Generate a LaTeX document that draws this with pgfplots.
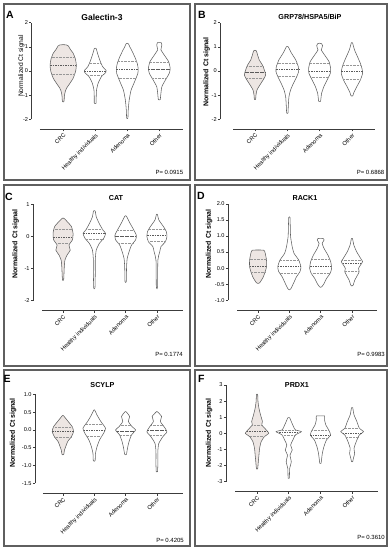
\documentclass[border=0pt]{standalone}
\usepackage{pgfplots}
\pgfplotsset{compat=1.18}
\usepackage{pgfplotstable}
\usepackage{fontspec}
\setmainfont{Liberation Sans}

\definecolor{vout}{RGB}{95,95,95}
\definecolor{crc}{RGB}{237,230,227}
\definecolor{frame}{RGB}{95,95,95}
\definecolor{axc}{RGB}{60,60,60}
\definecolor{medc}{RGB}{90,90,90}
\definecolor{qc}{RGB}{150,150,150}

% ---- violin outlines: y, half-width (category units) ----
\pgfplotstableread[row sep=\\]{y w\\ 1.09 0\\ 1.08 0.10\\ 1.04 0.16\\ 0.90 0.22\\ 0.74 0.31\\ 0.50 0.38\\ 0.25 0.41\\ 0.00 0.39\\ -0.30 0.31\\ -0.55 0.19\\ -0.70 0.11\\ -0.82 0.07\\ -1.00 0.04\\ -1.20 0.03\\ -1.27 0.02\\ -1.28 0\\}\tAa
\pgfplotstableread[row sep=\\]{y w\\ 0.95 0\\ 0.93 0.03\\ 0.74 0.07\\ 0.50 0.13\\ 0.39 0.16\\ 0.18 0.23\\ 0.02 0.34\\ -0.06 0.33\\ -0.24 0.19\\ -0.51 0.09\\ -0.79 0.04\\ -1.10 0.03\\ -1.33 0.03\\ -1.35 0\\}\tAb
\pgfplotstableread[row sep=\\]{y w\\ 1.15 0\\ 1.12 0.04\\ 1.00 0.08\\ 0.875 0.13\\ 0.60 0.23\\ 0.32 0.31\\ 0.11 0.34\\ -0.10 0.33\\ -0.44 0.23\\ -0.79 0.12\\ -1.20 0.06\\ -1.62 0.03\\ -1.95 0.02\\ -1.97 0\\}\tAc
\pgfplotstableread[row sep=\\]{y w\\ 1.18 0\\ 1.17 0.06\\ 1.08 0.08\\ 0.95 0.06\\ 0.875 0.05\\ 0.67 0.15\\ 0.39 0.29\\ 0.11 0.34\\ -0.10 0.31\\ -0.375 0.19\\ -0.65 0.08\\ -0.93 0.05\\ -1.18 0.03\\ -1.20 0\\}\tAd

\pgfplotstableread[row sep=\\]{y w\\ 0.86 0\\ 0.84 0.04\\ 0.67 0.08\\ 0.46 0.13\\ 0.25 0.23\\ 0.04 0.29\\ -0.17 0.33\\ -0.375 0.25\\ -0.58 0.15\\ -0.79 0.06\\ -1.0 0.03\\ -1.17 0.02\\ -1.18 0\\}\tBa
\pgfplotstableread[row sep=\\]{y w\\ 1.02 0\\ 1.00 0.03\\ 0.74 0.13\\ 0.46 0.26\\ 0.18 0.34\\ -0.03 0.35\\ -0.24 0.29\\ -0.51 0.19\\ -0.79 0.10\\ -1.07 0.05\\ -1.49 0.03\\ -1.74 0.02\\ -1.76 0\\}\tBb
\pgfplotstableread[row sep=\\]{y w\\ 1.15 0\\ 1.13 0.06\\ 1.05 0.09\\ 0.95 0.07\\ 0.875 0.05\\ 0.67 0.15\\ 0.39 0.29\\ 0.11 0.34\\ -0.10 0.33\\ -0.375 0.23\\ -0.65 0.13\\ -0.93 0.06\\ -1.25 0.03\\ -1.27 0\\}\tBc
\pgfplotstableread[row sep=\\]{y w\\ 1.18 0\\ 1.16 0.02\\ 0.875 0.08\\ 0.60 0.17\\ 0.32 0.26\\ 0.11 0.31\\ -0.10 0.33\\ -0.375 0.26\\ -0.65 0.15\\ -0.86 0.07\\ -1.02 0.03\\ -1.04 0\\}\tBd

\pgfplotstableread[row sep=\\]{y w\\ 0.57 0\\ 0.55 0.04\\ 0.46 0.13\\ 0.30 0.27\\ 0.09 0.32\\ -0.11 0.30\\ -0.27 0.19\\ -0.43 0.23\\ -0.58 0.13\\ -0.74 0.06\\ -0.95 0.04\\ -1.16 0.03\\ -1.35 0.02\\ -1.37 0\\}\tCa
\pgfplotstableread[row sep=\\]{y w\\ 0.80 0\\ 0.78 0.03\\ 0.61 0.06\\ 0.41 0.15\\ 0.20 0.27\\ 0.09 0.36\\ -0.06 0.30\\ -0.22 0.16\\ -0.43 0.06\\ -0.74 0.03\\ -1.16 0.03\\ -1.60 0.02\\ -1.62 0\\}\tCb
\pgfplotstableread[row sep=\\]{y w\\ 0.64 0\\ 0.62 0.03\\ 0.46 0.11\\ 0.25 0.23\\ 0.04 0.34\\ -0.11 0.32\\ -0.27 0.19\\ -0.48 0.11\\ -0.69 0.05\\ -0.95 0.03\\ -1.40 0.02\\ -1.42 0\\}\tCc
\pgfplotstableread[row sep=\\]{y w\\ 0.69 0\\ 0.67 0.02\\ 0.51 0.06\\ 0.30 0.21\\ 0.15 0.30\\ -0.01 0.32\\ -0.17 0.27\\ -0.32 0.13\\ -0.48 0.09\\ -0.74 0.03\\ -1.57 0.02\\ -1.59 0\\}\tCd

\pgfplotstableread[row sep=\\]{y w\\ 0.565 0\\ 0.555 0.19\\ 0.46 0.23\\ 0.25 0.27\\ 0.04 0.27\\ -0.11 0.23\\ -0.27 0.17\\ -0.375 0.11\\ -0.46 0.05\\ -0.48 0\\}\tDa
\pgfplotstableread[row sep=\\]{y w\\ 1.60 0\\ 1.58 0.02\\ 1.29 0.03\\ 0.98 0.04\\ 0.67 0.09\\ 0.46 0.15\\ 0.25 0.30\\ 0.04 0.37\\ -0.11 0.34\\ -0.27 0.23\\ -0.48 0.13\\ -0.64 0.05\\ -0.68 0\\}\tDb
\pgfplotstableread[row sep=\\]{y w\\ 0.93 0\\ 0.92 0.09\\ 0.875 0.11\\ 0.77 0.05\\ 0.61 0.11\\ 0.41 0.23\\ 0.20 0.32\\ -0.01 0.35\\ -0.17 0.30\\ -0.32 0.19\\ -0.48 0.11\\ -0.58 0.04\\ -0.60 0\\}\tDc
\pgfplotstableread[row sep=\\]{y w\\ 0.93 0\\ 0.91 0.02\\ 0.72 0.06\\ 0.51 0.15\\ 0.30 0.28\\ 0.20 0.34\\ 0.09 0.27\\ -0.01 0.21\\ -0.11 0.23\\ -0.27 0.15\\ -0.375 0.09\\ -0.53 0.04\\ -0.56 0\\}\tDd

\pgfplotstableread[row sep=\\]{y w\\ 0.41 0\\ 0.39 0.03\\ 0.28 0.13\\ 0.09 0.30\\ -0.05 0.34\\ -0.19 0.27\\ -0.33 0.15\\ -0.47 0.09\\ -0.57 0.05\\ -0.68 0.03\\ -0.70 0\\}\tEa
\pgfplotstableread[row sep=\\]{y w\\ 0.57 0\\ 0.55 0.02\\ 0.42 0.09\\ 0.24 0.21\\ 0.05 0.36\\ -0.09 0.30\\ -0.28 0.17\\ -0.47 0.09\\ -0.66 0.04\\ -0.86 0.03\\ -0.88 0\\}\tEb
\pgfplotstableread[row sep=\\]{y w\\ 0.52 0\\ 0.50 0.03\\ 0.38 0.13\\ 0.24 0.09\\ 0.09 0.21\\ 0.00 0.32\\ -0.14 0.19\\ -0.33 0.11\\ -0.52 0.06\\ -0.68 0.03\\ -0.70 0\\}\tEc
\pgfplotstableread[row sep=\\]{y w\\ 0.52 0\\ 0.50 0.03\\ 0.38 0.15\\ 0.24 0.11\\ 0.09 0.23\\ -0.05 0.32\\ -0.19 0.19\\ -0.38 0.06\\ -0.61 0.03\\ -0.99 0.03\\ -1.17 0.02\\ -1.18 0\\}\tEd

\pgfplotstableread[row sep=\\]{y w\\ 2.44 0\\ 2.40 0.02\\ 1.98 0.03\\ 1.56 0.06\\ 1.15 0.11\\ 0.73 0.17\\ 0.52 0.15\\ 0.21 0.29\\ 0.00 0.37\\ -0.21 0.23\\ -0.52 0.13\\ -0.94 0.08\\ -1.35 0.06\\ -1.77 0.04\\ -2.20 0.02\\ -2.23 0\\}\tFa
\pgfplotstableread[row sep=\\]{y w\\ 0.98 0\\ 0.96 0.03\\ 0.73 0.08\\ 0.42 0.15\\ 0.21 0.21\\ 0.10 0.40\\ -0.10 0.21\\ -0.42 0.13\\ -0.73 0.06\\ -1.04 0.11\\ -1.35 0.04\\ -1.77 0.08\\ -2.19 0.03\\ -2.78 0.02\\ -2.80 0\\}\tFb
\pgfplotstableread[row sep=\\]{y w\\ 1.08 0\\ 1.075 0.13\\ 0.83 0.13\\ 0.52 0.17\\ 0.21 0.26\\ -0.10 0.32\\ -0.42 0.19\\ -0.83 0.11\\ -1.25 0.06\\ -1.56 0.04\\ -1.86 0.02\\ -1.88 0\\}\tFc
\pgfplotstableread[row sep=\\]{y w\\ 1.60 0\\ 1.58 0.02\\ 1.15 0.06\\ 0.73 0.15\\ 0.31 0.23\\ 0.10 0.36\\ -0.10 0.23\\ -0.52 0.13\\ -0.94 0.06\\ -1.25 0.08\\ -1.56 0.04\\ -1.75 0.02\\ -1.77 0\\}\tFd

% outline of a violin: centre, table
\newcommand{\violin}[2]{%
  \addplot[vo] table[x expr={#1+\thisrow{w}}, y=y] {#2};
  \addplot[vo] table[x expr={#1-\thisrow{w}}, y=y] {#2};
}
% filled halves (ends have zero width, so closing gives each half)
\newcommand{\crcfill}[2]{%
  \addplot[vf] table[x expr={#1+\thisrow{w}}, y=y] {#2} -- cycle;
  \addplot[vf] table[x expr={#1-\thisrow{w}}, y=y] {#2} -- cycle;
}
% horizontal line: centre, y, half-width, style
\newcommand{\qline}[4]{\addplot[#4] table[row sep=\\, x expr={#1+\thisrow{d}}, y=y] {d y\\ -#3 #2\\ #3 #2\\};}

\pgfplotsset{
  vo/.style={draw=vout, line width=0.55pt, smooth, tension=0.35},
  vf/.style={fill=crc, draw=none, smooth, tension=0.35},
  med/.style={draw=medc, dash pattern=on 1.6pt off 0.9pt, line width=0.5pt},
  qrt/.style={draw=qc, dash pattern=on 0.6pt off 0.8pt, line width=0.45pt},
  vp/.style={scale only axis, clip=false, anchor=south west,
    axis x line*=bottom, axis y line*=left,
    axis line style={draw=none},
    xtick={0,1,2,3}, xticklabels={CRC,Healthy individuals,Adenoma,Other},
    tick align=outside, major tick length=2.2pt,
    tick style={axc, line width=0.7pt},
    xticklabel style={rotate=45, anchor=north east, font=\fontsize{5.8}{5.8}\selectfont, inner sep=1pt},
    yticklabel style={font=\fontsize{5.6}{5.6}\selectfont, inner sep=1pt},
  },
}
\newcommand{\titlefont}{\bfseries\fontsize{7.2}{7.2}\selectfont}
\newcommand{\labfont}{\bfseries\fontsize{7}{7}\selectfont}
\newcommand{\letfont}{\bfseries\fontsize{10.5}{10.5}\selectfont}
\newcommand{\pfont}{\fontsize{6}{6}\selectfont}

\begin{document}
\begin{tikzpicture}
\useasboundingbox (0,0) rectangle (391pt,-550pt);
% panel frames
\begin{scope}[frame, line width=1.3pt]
\draw (4pt,-4pt) rectangle (190pt,-180pt);
\draw (195pt,-4pt) rectangle (387pt,-180pt);
\draw (4pt,-185pt) rectangle (190pt,-366pt);
\draw (195pt,-185pt) rectangle (387pt,-366pt);
\draw (4pt,-370pt) rectangle (190pt,-546pt);
\draw (195pt,-370pt) rectangle (387pt,-546pt);
\end{scope}

% ===== A =====
\begin{axis}[vp, at={(31.5pt,-129.2pt)}, width=151.5pt, height=107.7pt,
  xmin=-0.99, xmax=3.74, ymin=-2.41, ymax=2.05,
  ytick={-2,-1,0,1,2}, yticklabels={-2,-1,0,1,2}]
\crcfill{0}{\tAa}
\violin{0}{\tAa}\violin{1}{\tAb}\violin{2}{\tAc}\violin{3}{\tAd}
\qline{0}{0.22}{0.41}{med}\qline{0}{0.57}{0.36}{qrt}\qline{0}{-0.12}{0.36}{qrt}
\qline{1}{-0.03}{0.34}{med}\qline{1}{0.32}{0.17}{qrt}\qline{1}{-0.19}{0.22}{qrt}
\qline{2}{0.08}{0.34}{med}\qline{2}{0.40}{0.29}{qrt}\qline{2}{-0.30}{0.27}{qrt}
\qline{3}{0.08}{0.34}{med}\qline{3}{0.36}{0.29}{qrt}\qline{3}{-0.30}{0.23}{qrt}
\draw[axc, line width=0.8pt] (axis cs:-0.99,-2) -- (axis cs:-0.99,2);
\draw[axc, line width=0.8pt] (axis cs:-0.73,-2.41) -- (axis cs:3.74,-2.41);
\end{axis}
\node[anchor=base west, font=\letfont, inner sep=0] at (6pt,-18.3pt) {A};
\node[anchor=base, font=\bfseries\fontsize{8.5}{8.5}\selectfont, inner sep=0] at (102pt,-20.7pt) {Galectin-3};
\node[rotate=90, font=\fontsize{6.7}{6.7}\selectfont, inner sep=0] at (21.5pt,-66pt) {Normalized Ct signal};
\node[anchor=base east, font=\pfont, inner sep=0] at (183.3pt,-174.5pt) {P= 0.0915};

% ===== B =====
\begin{axis}[vp, at={(220.1pt,-129.2pt)}, width=155.1pt, height=107.7pt,
  xmin=-1.08, xmax=3.72, ymin=-2.41, ymax=2.05,
  ytick={-2,-1,0,1,2}, yticklabels={-2,-1,0,1,2}]
\crcfill{0}{\tBa}
\violin{0}{\tBa}\violin{1}{\tBb}\violin{2}{\tBc}\violin{3}{\tBd}
\qline{0}{-0.07}{0.31}{med}\qline{0}{0.21}{0.24}{qrt}\qline{0}{-0.30}{0.28}{qrt}
\qline{1}{0.06}{0.35}{med}\qline{1}{0.32}{0.30}{qrt}\qline{1}{-0.21}{0.30}{qrt}
\qline{2}{0.00}{0.34}{med}\qline{2}{0.32}{0.30}{qrt}\qline{2}{-0.26}{0.29}{qrt}
\qline{3}{-0.03}{0.33}{med}\qline{3}{0.25}{0.28}{qrt}\qline{3}{-0.33}{0.28}{qrt}
\draw[axc, line width=0.8pt] (axis cs:-1.08,-2) -- (axis cs:-1.08,2);
\draw[axc, line width=0.8pt] (axis cs:-0.68,-2.41) -- (axis cs:3.72,-2.41);
\end{axis}
\node[anchor=base west, font=\letfont, inner sep=0] at (198pt,-18.3pt) {B};
\node[anchor=base, font=\titlefont, inner sep=0] at (310pt,-19.3pt) {GRP78/HSPA5/BiP};
\node[rotate=90, font=\labfont, inner sep=0] at (206.5pt,-72pt) {Normalized Ct signal};
\node[anchor=base east, font=\pfont, inner sep=0] at (384.5pt,-174.5pt) {P= 0.6868};

% ===== C =====
\begin{axis}[vp, at={(33pt,-310.7pt)}, width=149.9pt, height=108.2pt,
  xmin=-0.96, xmax=3.83, ymin=-2.31, ymax=1.05,
  ytick={-2,-1,0,1}, yticklabels={-2,-1,0,1}]
\crcfill{0}{\tCa}
\violin{0}{\tCa}\violin{1}{\tCb}\violin{2}{\tCc}\violin{3}{\tCd}
\qline{0}{-0.03}{0.31}{med}\qline{0}{0.22}{0.27}{qrt}\qline{0}{-0.22}{0.22}{qrt}
\qline{1}{0.11}{0.35}{med}\qline{1}{0.22}{0.26}{qrt}\qline{1}{-0.09}{0.27}{qrt}
\qline{2}{-0.01}{0.34}{med}\qline{2}{0.20}{0.23}{qrt}\qline{2}{-0.20}{0.25}{qrt}
\qline{3}{0.04}{0.31}{med}\qline{3}{0.22}{0.26}{qrt}\qline{3}{-0.14}{0.28}{qrt}
\draw[axc, line width=0.8pt] (axis cs:-0.96,-2) -- (axis cs:-0.96,1);
\draw[axc, line width=0.8pt] (axis cs:-0.67,-2.31) -- (axis cs:3.83,-2.31);
\end{axis}
\node[anchor=base west, font=\letfont, inner sep=0] at (5pt,-200pt) {C};
\node[anchor=base, font=\titlefont, inner sep=0] at (116pt,-200.7pt) {CAT};
\node[rotate=90, font=\labfont, inner sep=0] at (15.5pt,-244pt) {Normalized Ct signal};
\node[anchor=base east, font=\pfont, inner sep=0] at (183pt,-356pt) {P= 0.1774};

% ===== D =====
\begin{axis}[vp, at={(228pt,-310.7pt)}, width=149pt, height=108.3pt,
  xmin=-0.96, xmax=3.8, ymin=-1.33, ymax=2.05,
  ytick={-1,-0.5,0,0.5,1,1.5,2}, yticklabels={-1.0,-0.5,0.0,0.5,1.0,1.5,2.0}]
\crcfill{0}{\tDa}
\violin{0}{\tDa}\violin{1}{\tDb}\violin{2}{\tDc}\violin{3}{\tDd}
\qline{0}{0.07}{0.27}{med}\qline{0}{0.27}{0.27}{qrt}\qline{0}{-0.13}{0.23}{qrt}
\qline{1}{0.05}{0.37}{med}\qline{1}{0.26}{0.30}{qrt}\qline{1}{-0.15}{0.31}{qrt}
\qline{2}{0.06}{0.34}{med}\qline{2}{0.29}{0.27}{qrt}\qline{2}{-0.17}{0.30}{qrt}
\qline{3}{0.14}{0.30}{med}\qline{3}{0.25}{0.31}{qrt}\qline{3}{-0.09}{0.22}{qrt}
\draw[axc, line width=0.8pt] (axis cs:-0.96,-1) -- (axis cs:-0.96,2);
\draw[axc, line width=0.8pt] (axis cs:-0.67,-1.33) -- (axis cs:3.8,-1.33);
\end{axis}
\node[anchor=base west, font=\letfont, inner sep=0] at (197pt,-199pt) {D};
\node[anchor=base, font=\titlefont, inner sep=0] at (305pt,-200.7pt) {RACK1};
\node[rotate=90, font=\labfont, inner sep=0] at (209pt,-244pt) {Normalized Ct signal};
\node[anchor=base east, font=\pfont, inner sep=0] at (385pt,-356pt) {P= 0.9983};

% ===== E =====
\begin{axis}[vp, at={(35pt,-493.3pt)}, width=147.9pt, height=100.7pt,
  xmin=-0.89, xmax=3.83, ymin=-1.78, ymax=1.05,
  ytick={-1.5,-1,-0.5,0,0.5,1}, yticklabels={-1.5,-1.0,-0.5,0.0,0.5,1.0}]
\crcfill{0}{\tEa}
\violin{0}{\tEa}\violin{1}{\tEb}\violin{2}{\tEc}\violin{3}{\tEd}
\qline{0}{-0.05}{0.34}{med}\qline{0}{0.08}{0.30}{qrt}\qline{0}{-0.19}{0.27}{qrt}
\qline{1}{-0.02}{0.33}{med}\qline{1}{0.16}{0.26}{qrt}\qline{1}{-0.17}{0.24}{qrt}
\qline{2}{-0.05}{0.26}{med}\qline{2}{0.14}{0.16}{qrt}\qline{2}{-0.16}{0.18}{qrt}
\qline{3}{0.00}{0.30}{med}\qline{3}{0.14}{0.18}{qrt}\qline{3}{-0.16}{0.22}{qrt}
\draw[axc, line width=0.8pt] (axis cs:-0.89,-1.5) -- (axis cs:-0.89,1);
\draw[axc, line width=0.8pt] (axis cs:-0.64,-1.78) -- (axis cs:3.83,-1.78);
\end{axis}
\node[anchor=base west, font=\letfont, inner sep=0] at (3.5pt,-382pt) {E};
\node[anchor=base, font=\titlefont, inner sep=0] at (102.5pt,-387.7pt) {SCYLP};
\node[rotate=90, font=\labfont, inner sep=0] at (13pt,-433pt) {Normalized Ct signal};
\node[anchor=base east, font=\pfont, inner sep=0] at (184pt,-542pt) {P= 0.4205};

% ===== F =====
\begin{axis}[vp, at={(226pt,-491.7pt)}, width=152.1pt, height=108.3pt,
  xmin=-0.98, xmax=3.82, ymin=-3.63, ymax=3.1,
  ytick={-3,-2,-1,0,1,2,3}, yticklabels={-3,-2,-1,0,1,2,3}]
\crcfill{0}{\tFa}
\violin{0}{\tFa}\violin{1}{\tFb}\violin{2}{\tFc}\violin{3}{\tFd}
\qline{0}{0.10}{0.33}{med}\qline{0}{0.52}{0.15}{qrt}\qline{0}{-0.21}{0.23}{qrt}
\qline{1}{0.04}{0.30}{med}\qline{1}{0.21}{0.21}{qrt}\qline{1}{-0.15}{0.20}{qrt}
\qline{2}{-0.10}{0.32}{med}\qline{2}{0.19}{0.26}{qrt}\qline{2}{-0.31}{0.23}{qrt}
\qline{3}{0.00}{0.30}{med}\qline{3}{0.31}{0.23}{qrt}\qline{3}{-0.27}{0.20}{qrt}
\draw[axc, line width=0.8pt] (axis cs:-0.98,-3) -- (axis cs:-0.98,3);
\draw[axc, line width=0.8pt] (axis cs:-0.69,-3.63) -- (axis cs:3.82,-3.63);
\end{axis}
\node[anchor=base west, font=\letfont, inner sep=0] at (198pt,-382pt) {F};
\node[anchor=base, font=\titlefont, inner sep=0] at (297pt,-387.7pt) {PRDX1};
\node[rotate=90, font=\labfont, inner sep=0] at (209pt,-433pt) {Normalized Ct signal};
\node[anchor=base east, font=\pfont, inner sep=0] at (385pt,-539pt) {P= 0.3610};
\end{tikzpicture}
\end{document}
